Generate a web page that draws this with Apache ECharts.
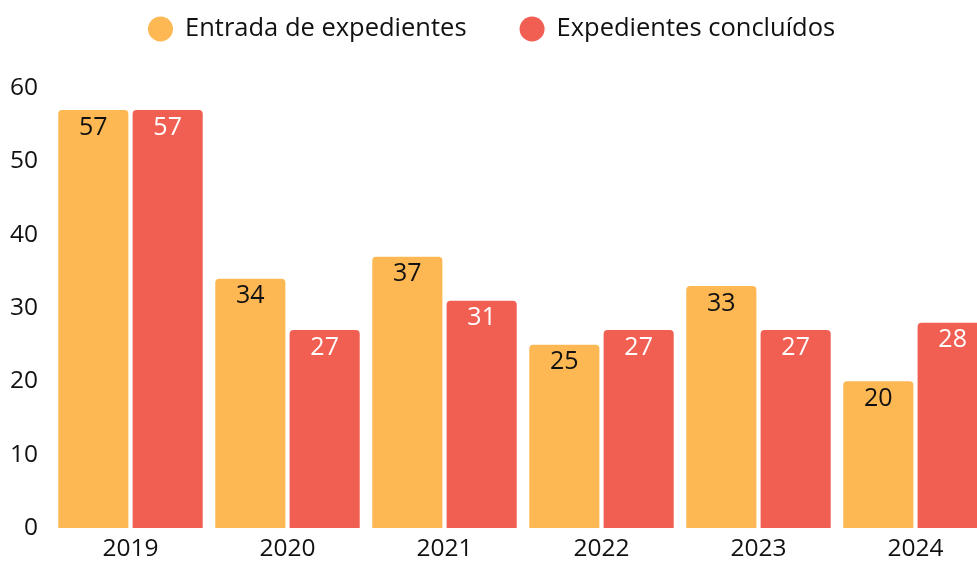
<!DOCTYPE html>
<html>
<head>
<meta charset="utf-8">
<script src="https://cdn.jsdelivr.net/npm/echarts@6/dist/echarts.min.js"></script>
<style>
  html, body { margin: 0; padding: 0; background: #fff; overflow: hidden; }
  #chart { width: 1000px; height: 561px; }
</style>
</head>
<body>
<div id="chart"></div>
<script>
const years = ['2019', '2020', '2021', '2022', '2023', '2024']
const entrada = [57, 34, 37, 25, 33, 20]
const concluidos = [57, 27, 31, 27, 27, 28]
const yTicks = { min: 0, max: 60, interval: 10 }

const chart = echarts.init(document.getElementById('chart'))

const font = '"Open Sans", "Noto Sans", sans-serif'

chart.setOption({
  textStyle: { fontFamily: font },
  legend: {
    left: 143,
    top: 11,
    icon: 'circle',
    itemWidth: 25,
    itemHeight: 25,
    itemGap: 53,
    textStyle: { fontSize: 25.5, color: '#111', fontFamily: font, padding: [0, 0, 0, 7] }
  },
  grid: {
    left: 52,
    right: 6,
    top: 88,
    bottom: 33,
    outerBoundsMode: 'none'
  },
  xAxis: {
    type: 'category',
    data: years,
    axisLine: { show: false },
    axisTick: { show: false },
    axisLabel: { fontSize: 24.5, color: '#111', margin: 9, fontFamily: font }
  },
  yAxis: {
    type: 'value',
    min: yTicks.min,
    max: yTicks.max,
    interval: yTicks.interval,
    splitLine: { show: false },
    axisLine: { show: false },
    axisTick: { show: false },
    axisLabel: { fontSize: 24.5, color: '#111', margin: 14, fontFamily: font }
  },
  series: [
    {
      name: 'Entrada de expedientes',
      type: 'bar',
      data: entrada,
      barGap: '6%',
      barCategoryGap: '8%',
      itemStyle: { color: '#FEB853', borderRadius: [4, 4, 0, 0] },
      label: { show: true, position: 'insideTop', distance: 5, fontSize: 25, color: '#111', fontFamily: font }
    },
    {
      name: 'Expedientes concluídos',
      type: 'bar',
      data: concluidos,
      itemStyle: { color: '#F15F52', borderRadius: [4, 4, 0, 0] },
      label: { show: true, position: 'insideTop', distance: 5, fontSize: 25, color: '#fff', fontFamily: font }
    }
  ]
})

window.addEventListener('resize', () => chart.resize())
</script>
</body>
</html>
